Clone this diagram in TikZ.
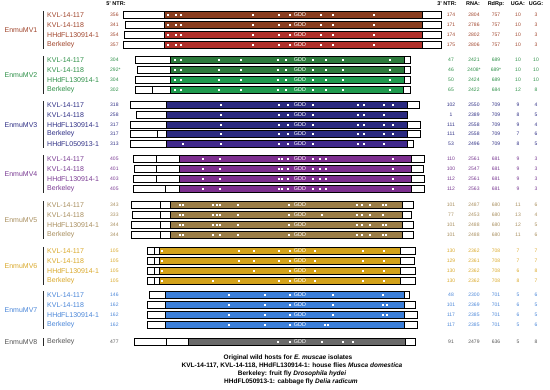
\documentclass[tikz,border=0pt]{standalone}
\usepackage{fontspec}
\setmainfont{Liberation Sans}
\usetikzlibrary{positioning}

\definecolor{mvAt}{HTML}{A0452C}
\definecolor{mvAa}{HTML}{8A3E20}
\definecolor{mvAb}{HTML}{B0302A}
\definecolor{mvBt}{HTML}{2E9048}
\definecolor{mvBa}{HTML}{2D7A3C}
\definecolor{mvBb}{HTML}{1F9A4E}
\definecolor{mvCt}{HTML}{2F2F85}
\definecolor{mvCa}{HTML}{2B2A80}
\definecolor{mvCb}{HTML}{40298C}
\definecolor{mvDt}{HTML}{7A3B93}
\definecolor{mvDa}{HTML}{7D2F8F}
\definecolor{mvEt}{HTML}{A88E5E}
\definecolor{mvEa}{HTML}{9B7E48}
\definecolor{mvFt}{HTML}{D9A82A}
\definecolor{mvFa}{HTML}{D3A21A}
\definecolor{mvGt}{HTML}{4A86D8}
\definecolor{mvGa}{HTML}{3D80DA}
\definecolor{mvHt}{HTML}{555555}
\definecolor{mvHa}{HTML}{6A6A6A}
\colorlet{cur}{black}

% text columns of one isolate: y, name, 5'NTR, 3'NTR, RNA, RdRp, UGA, UGG
\newcommand{\isorow}[8]{%
  \node[isoname,text=cur] (iso#1) at (47,#1) {#2};
  \node[numtxt,anchor=west,text=cur] (ntrA#1) at (110,#1) {#3};
  \node[numtxt,text=cur] (ntrB#1) at (451,#1) {#4};
  \node[numtxt,text=cur] (rna#1) at (474,#1) {#5};
  \node[numtxt,text=cur] (rdrp#1) at (496,#1) {#6};
  \node[numtxt,text=cur] (uga#1) at (518,#1) {#7};
  \node[numtxt,text=cur] (ugg#1) at (536,#1) {#8};
}
% genome bar: y, ORF start, 5'NTR, 3'NTR, RNA length, fill, motif positions
\newcommand{\genome}[7]{%
  \pgfmathsetmacro\xa{#2-0.1134*#3}
  \pgfmathsetmacro\xb{#2+0.1134*(#5-#3-#4)}
  \pgfmathsetmacro\xc{\xb+0.1134*#4}
  \fill[#6] (#2,#1-3.5) rectangle (\xb,#1+3.5);
  \foreach \d in {#7} \fill[white] (\d-0.6,#1-0.6) rectangle (\d+0.6,#1+0.6);
  \node[gdd] (gdd#1) at (300,#1) {GDD};
  \draw[genomebar] (\xa,#1-3.5) rectangle (\xc,#1+3.5);
  \draw[genomebar] (#2,#1-3.5) -- (#2,#1+3.5) (\xb,#1-3.5) -- (\xb,#1+3.5);
}

\begin{document}
\begin{tikzpicture}[x=1pt,y=-1pt,
    isoname/.style={anchor=west,font=\fontsize{7}{8}\selectfont,inner sep=0pt},
    numtxt/.style={font=\fontsize{5}{6}\selectfont,inner sep=0pt},
    colhead/.style={font=\bfseries\fontsize{5.5}{6}\selectfont,inner sep=0pt},
    grplabel/.style={font=\fontsize{7}{8}\selectfont,inner sep=0pt},
    grpline/.style={line width=1pt,color=black!85},
    genomebar/.style={draw=black,line width=0.7pt},
    gdd/.style={text=white,font=\fontsize{5.5}{6}\selectfont,inner sep=0pt},
    hosts/.style={font=\bfseries\fontsize{6.5}{7}\selectfont,inner sep=0pt}]
  \useasboundingbox (0,0) rectangle (550,390);

  % column heads
  \node[colhead] (hA) at (116,4) {5' NTR:};
  \node[colhead] (hB) at (447,4) {3' NTR:};
  \node[colhead] (hC) at (473,4) {RNA:};
  \node[colhead] (hD) at (496,4) {RdRp:};
  \node[colhead] (hE) at (518,4) {UGA:};
  \node[colhead] (hF) at (536,4) {UGG:};

  % EnmuMV1
  \colorlet{cur}{mvAt}
  \node[grplabel,text=cur] (mvA) at (21,30) {EnmuMV1};
  \draw[grpline] (43,11) -- (43,49);
  \isorow{15}{KVL-14-117}{356}{174}{2804}{757}{10}{3}
  \isorow{25}{KVL-14-118}{341}{171}{2786}{757}{10}{3}
  \isorow{35}{HHdFL130914-1}{354}{174}{2802}{757}{10}{3}
  \isorow{45}{Berkeley}{357}{175}{2806}{757}{10}{3}
  \genome{15}{164}{356}{174}{2804}{mvAa}{168,176,181,253,279,290,321,333,374}
  \genome{25}{164}{341}{171}{2786}{mvAa}{168,176,181,253,279,290,321,333,374}
  \genome{35}{164}{354}{174}{2802}{mvAb}{168,176,181,253,279,290,321,333,374}
  \genome{45}{164}{357}{175}{2806}{mvAb}{168,176,181,253,279,290,321,333,374}

  % EnmuMV2
  \colorlet{cur}{mvBt}
  \node[grplabel,text=cur] (mvB) at (21,75) {EnmuMV2};
  \draw[grpline] (43,56) -- (43,94);
  \isorow{60}{KVL-14-117}{304}{47}{2421}{689}{10}{10}
  \isorow{70}{KVL-14-118}{292*}{46}{2408*}{689*}{10}{10}
  \isorow{80}{HHdFL130914-1}{304}{50}{2424}{689}{10}{10}
  \isorow{90}{Berkeley}{302}{65}{2422}{684}{12}{8}
  \genome{60}{170}{304}{47}{2421}{mvBa}{175,181,219,241,278,286,313,326,343,390}
  \genome{70}{170}{292}{46}{2408}{mvBa}{175,181,219,241,278,286,313,326,343,390}
  \genome{80}{170}{304}{50}{2424}{mvBb}{175,181,219,241,278,286,313,326,343,390}
  \genome{90}{170}{302}{65}{2422}{mvBb}{175,181,219,241,278,286,313,326,343,390}
  \draw[genomebar] (152,86.5) -- (152,93.5);

  % EnmuMV3
  \colorlet{cur}{mvCt}
  \node[grplabel,text=cur] (mvC) at (21,125) {EnmuMV3};
  \draw[grpline] (43,101) -- (43,148);
  \isorow{105}{KVL-14-117}{318}{102}{2550}{709}{9}{4}
  \isorow{115}{KVL-14-118}{258}{1}{2389}{709}{8}{5}
  \isorow{125}{HHdFL130914-1}{317}{111}{2558}{709}{9}{4}
  \isorow{134}{Berkeley}{317}{111}{2558}{709}{7}{6}
  \isorow{144}{HHdFL050913-1}{313}{53}{2496}{709}{8}{5}
  \genome{105}{166}{318}{102}{2550}{mvCa}{221,279,288,313,358,364,384,393}
  \genome{115}{166}{258}{1}{2389}{mvCa}{221,279,288,313,358,364,384}
  \genome{125}{166}{317}{111}{2558}{mvCa}{221,279,288,313,358,364,384,393}
  \genome{134}{166}{317}{111}{2558}{mvCa}{221,279,288,313,358,364,384,393}
  \genome{144}{166}{313}{53}{2496}{mvCb}{183,221,279,288,313,358,364,384}
  \draw[genomebar] (157,130.5) -- (157,137.5);

  % EnmuMV4
  \colorlet{cur}{mvDt}
  \node[grplabel,text=cur] (mvD) at (21,174) {EnmuMV4};
  \draw[grpline] (43,155) -- (43,193);
  \isorow{159}{KVL-14-117}{405}{110}{2561}{681}{9}{3}
  \isorow{169}{KVL-14-118}{401}{100}{2547}{681}{9}{3}
  \isorow{179}{HHdFL130914-1}{403}{112}{2561}{681}{9}{3}
  \isorow{189}{Berkeley}{405}{112}{2563}{681}{9}{3}
  \genome{159}{179.5}{405}{110}{2561}{mvDa}{203,220,279,282,288,313,320,326,393}
  \genome{169}{179.5}{401}{100}{2547}{mvDa}{203,220,279,282,288,313,320,326,393}
  \genome{179}{179.5}{403}{112}{2561}{mvDa}{203,220,279,282,288,313,320,326,393}
  \genome{189}{179.5}{405}{112}{2563}{mvDa}{203,220,279,282,288,313,320,326,393}
  \draw[genomebar] (156,155.5) -- (156,162.5) (156,165.5) -- (156,172.5)
    (156,175.5) -- (156,182.5) (165,185.5) -- (165,192.5);

  % EnmuMV5
  \colorlet{cur}{mvEt}
  \node[grplabel,text=cur] (mvE) at (21,220) {EnmuMV5};
  \draw[grpline] (43,201) -- (43,239);
  \isorow{205}{KVL-14-117}{343}{101}{2487}{680}{11}{6}
  \isorow{215}{KVL-14-118}{333}{77}{2453}{680}{13}{4}
  \isorow{225}{HHdFL130914-1}{344}{101}{2488}{680}{12}{5}
  \isorow{235}{Berkeley}{344}{101}{2488}{680}{11}{6}
  \genome{205}{170.5}{343}{101}{2487}{mvEa}{180,183,213,217,220,238,289,357,362,370,383,386}
  \genome{215}{170.5}{333}{77}{2453}{mvEa}{180,183,213,217,220,238,289,322,357,362,370,383}
  \genome{225}{170.5}{344}{101}{2488}{mvEa}{180,183,213,217,220,238,289,357,362,370,383,386}
  \genome{235}{170.5}{344}{101}{2488}{mvEa}{180,183,213,220,238,289,357,362,370,383,386}
  \draw[genomebar] (160,201.5) -- (160,208.5) (160,211.5) -- (160,218.5)
    (160,221.5) -- (160,228.5) (160,231.5) -- (160,238.5);

  % EnmuMV6
  \colorlet{cur}{mvFt}
  \node[grplabel,text=cur] (mvF) at (21,266) {EnmuMV6};
  \draw[grpline] (43,247) -- (43,285);
  \isorow{251}{KVL-14-117}{105}{130}{2362}{708}{7}{7}
  \isorow{261}{KVL-14-118}{105}{129}{2361}{708}{7}{7}
  \isorow{271}{HHdFL130914-1}{105}{130}{2362}{708}{6}{8}
  \isorow{281}{Berkeley}{105}{130}{2362}{708}{8}{7}
  \genome{251}{159}{105}{130}{2362}{mvFa}{162,239,254,279,290,315,363,384}
  \genome{261}{159}{105}{129}{2361}{mvFa}{162,239,254,279,290,315,363,384}
  \genome{271}{159}{105}{130}{2362}{mvFa}{162,254,290,315,363,384}
  \genome{281}{159}{105}{130}{2362}{mvFa}{162,213,239,279,290,315,363,384}
  \draw[genomebar] (154,247.5) -- (154,254.5) (154,257.5) -- (154,264.5)
    (154,267.5) -- (154,274.5) (154,277.5) -- (154,284.5);

  % EnmuMV7
  \colorlet{cur}{mvGt}
  \node[grplabel,text=cur] (mvG) at (21,310) {EnmuMV7};
  \draw[grpline] (43,291) -- (43,329);
  \isorow{295}{KVL-14-117}{146}{48}{2300}{701}{5}{6}
  \isorow{305}{KVL-14-118}{162}{101}{2369}{701}{6}{5}
  \isorow{315}{HHdFL130914-1}{162}{117}{2385}{701}{6}{5}
  \isorow{325}{Berkeley}{162}{117}{2385}{701}{5}{6}
  \genome{295}{165.5}{146}{48}{2300}{mvGa}{229,265,290,333,383}
  \genome{305}{165.5}{162}{101}{2369}{mvGa}{229,265,290,333,383,387}
  \genome{315}{165.5}{162}{117}{2385}{mvGa}{229,265,290,333,383,387}
  \genome{325}{165.5}{162}{117}{2385}{mvGa}{229,265,290,325,328}

  % EnmuMV8
  \colorlet{cur}{mvHt}
  \node[grplabel,text=cur] (mvH) at (21,342) {EnmuMV8};
  \draw[grpline] (43,338) -- (43,346);
  \isorow{342}{Berkeley}{477}{91}{2479}{636}{5}{8}
  \genome{342}{188.5}{477}{91}{2479}{mvHa}{278,290,322,343,353}
  \draw[genomebar] (166,338.5) -- (166,345.5);

  % hosts
  \node[hosts] (hostA) at (288,358) {Original wild hosts for \textit{E. muscae} isolates};
  \node[hosts] (hostB) at (292,366) {KVL-14-117, KVL-14-118, HHdFL130914-1: house flies \textit{Musca domestica}};
  \node[hosts] (hostC) at (292,374) {Berkeley: fruit fly \textit{Drosophila hydei}};
  \node[hosts] (hostD) at (291,382) {HHdFL050913-1: cabbage fly \textit{Delia radicum}};
\end{tikzpicture}
\end{document}
